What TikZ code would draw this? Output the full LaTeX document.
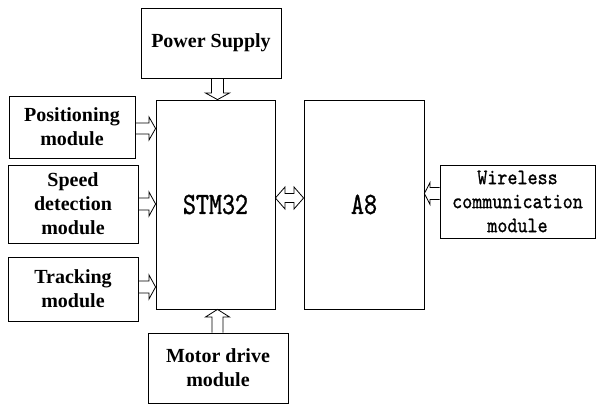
\documentclass[tikz,border=0pt]{standalone}
\usepackage{fontspec}
\setmainfont{Liberation Serif}
\newfontfamily\monoface[Extension=.otf, FakeStretch=0.87, FakeBold=1]{lmmono10-regular}
\newfontfamily\monobig[Extension=.otf, FakeStretch=0.8, FakeBold=1]{lmmono10-regular}
\usetikzlibrary{calc}
\begin{document}
\begin{tikzpicture}[x=1pt,y=-1pt,
  box/.style={draw, line width=0.8pt, inner sep=0pt, align=center},
  lbl/.style={font=\bfseries\fontsize{20}{24}\selectfont},
  mlbl/.style={font=\monoface\fontsize{22}{24}\selectfont},
  bigl/.style={font=\monobig\fontsize{31}{34}\selectfont},
  blk/.style={draw, line width=0.8pt, line join=miter}]
\useasboundingbox (0,0) rectangle (596,406);
% boxes
\node[box, lbl, minimum width=140pt, minimum height=70pt] (ps) at (211,43) {Power Supply};
\node[box, lbl, minimum width=126pt, minimum height=62pt] (pos) at (72,127) {Positioning\\module};
\node[box, lbl, minimum width=130pt, minimum height=78pt] (spd) at (73,204) {Speed\\detection\\module};
\node[box, lbl, minimum width=130pt, minimum height=64pt] (trk) at (73,289) {Tracking\\module};
\node[box, lbl, minimum width=140pt, minimum height=70pt] (mot) at (218,368) {Motor drive\\module};
\node[box, bigl, minimum width=119pt, minimum height=209pt] (stm) at (215.5,204.5) {STM32};
\node[box, bigl, minimum width=120pt, minimum height=209pt] (a8) at (364,204.5) {A8};
\node[box, mlbl, minimum width=155pt, minimum height=73pt] (wl) at (517.5,201.5) {Wireless\\communication\\module};
% power supply -> STM32 (down)
\draw[blk] (211.5,0 |- ps.south) -- (211.5,93) -- (205.5,93) -- (217.5,0 |- stm.north) -- (229.5,93) -- (223.5,93) -- (223.5,0 |- ps.south);
% motor -> STM32 (up)
\draw[blk] (212,0 |- mot.north) -- (212,317) -- (205.5,317) -- (217.5,0 |- stm.south) -- (229.5,317) -- (223,317) -- (223,0 |- mot.north);
% positioning -> STM32
\draw[blk] (pos.east |- 0,123) -- (149,123) -- (149,117) -- (stm.west |- 0,128.5) -- (149,140) -- (149,134) -- (pos.east |- 0,134);
% speed -> STM32
\draw[blk] (spd.east |- 0,198) -- (149,198) -- (149,192) -- (stm.west |- 0,204) -- (149,216) -- (149,210) -- (spd.east |- 0,210);
% tracking -> STM32
\draw[blk] (trk.east |- 0,281) -- (149,281) -- (149,275) -- (stm.west |- 0,287) -- (149,299) -- (149,293) -- (trk.east |- 0,293);
% STM32 <-> A8
\draw[blk] (285,193.5) -- (285,187) -- (stm.east |- 0,198) -- (285,209) -- (285,202.5) -- (294,202.5) -- (294,209) -- (a8.west |- 0,198) -- (294,187) -- (294,193.5) -- cycle;
% wireless -> A8
\draw[blk] (wl.west |- 0,187.5) -- (430,187.5) -- (430,182.5) -- (a8.east |- 0,193.5) -- (430,204.5) -- (430,199.5) -- (wl.west |- 0,199.5);
\end{tikzpicture}
\end{document}
